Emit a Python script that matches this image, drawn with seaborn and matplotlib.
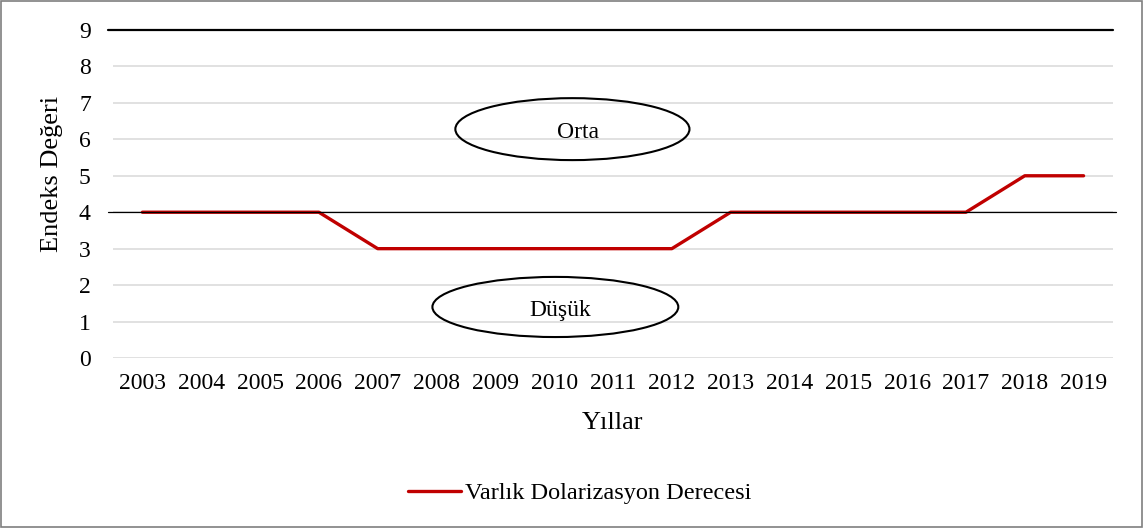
import pandas as pd
import matplotlib.pyplot as plt
import seaborn as sns
from matplotlib.patches import Ellipse, Rectangle

yillar = [str(y) for y in range(2003, 2020)]
derece = [4, 4, 4, 4, 3, 3, 3, 3, 3, 3, 4, 4, 4, 4, 4, 5, 5]
seri_adi = "Varlık Dolarizasyon Derecesi"

df = pd.DataFrame({"Yıl": yillar, "Değer": derece})

sns.set_style("white")
plt.rcParams['font.family'] = ['Liberation Serif', 'DejaVu Serif']
plt.rcParams['text.color'] = 'black'
plt.rcParams['axes.labelcolor'] = 'black'

fig = plt.figure(figsize=(11.43, 5.28), dpi=100)
ax = fig.add_axes([113 / 1143, 1 - 358 / 528, 1000 / 1143, 328 / 528])

ax.yaxis.grid(True, color="#D9D9D9", linewidth=1.1)
ax.set_axisbelow(True)

sns.lineplot(data=df, x="Yıl", y="Değer", color="#C00000", linewidth=2.4,
             label=seri_adi, ax=ax, sort=False)

# sınır çizgileri
ax.axhline(4, color="black", linewidth=0.9, xmin=-0.005, xmax=1.003, clip_on=False)
ax.axhline(9, color="black", linewidth=1.6, xmin=-0.005, clip_on=False)

ax.set_xlim(-0.5, 16.5)
ax.set_ylim(0, 9)
ax.set_yticks(range(0, 10))

for s in ax.spines.values():
    s.set_visible(False)
ax.tick_params(axis='both', length=0, labelsize=17, colors="black")
ax.tick_params(axis='y', pad=16)
ax.tick_params(axis='x', pad=11)

ax.set_ylabel("Endeks Değeri", fontsize=19)
ax.yaxis.set_label_coords(-0.05, 0.56)
ax.set_xlabel("Yıllar", fontsize=19, va='top')
ax.xaxis.set_label_coords(0.5, -0.165)

# bölge etiketleri
ax.add_patch(Ellipse((7.31, 6.28), 3.98, 1.70, fill=False, edgecolor="black", linewidth=1.5))
ax.text(7.4, 6.2, "Orta", ha='center', va='center', fontsize=17)
ax.add_patch(Ellipse((7.02, 1.40), 4.18, 1.65, fill=False, edgecolor="black", linewidth=1.5))
ax.text(7.1, 1.3, "Düşük", ha='center', va='center', fontsize=17)

ax.legend(loc='center', bbox_to_anchor=(0.507, 1 - 493 / 528), bbox_transform=fig.transFigure,
          frameon=False, fontsize=17.5, handlelength=2.2, handletextpad=0.15)

fig.patches.append(Rectangle((0.001, 0.002), 0.998, 0.996, transform=fig.transFigure,
                             fill=False, edgecolor="#7F7F7F", linewidth=1.2))

plt.savefig("out.png", dpi=100)
